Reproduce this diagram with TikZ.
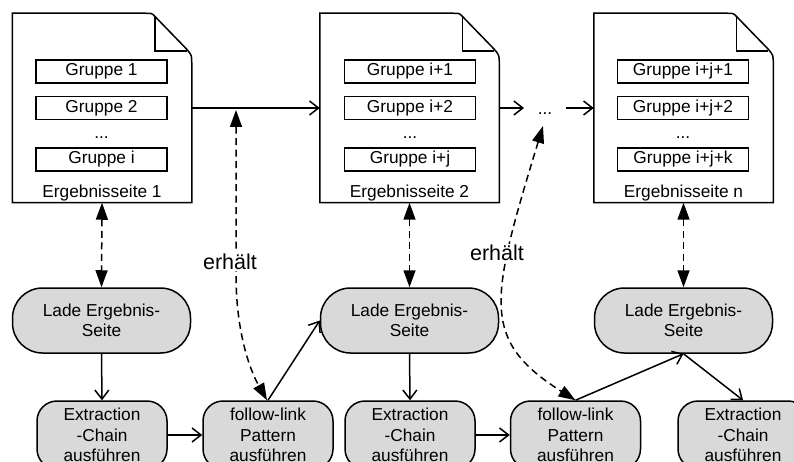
\documentclass[tikz,border=0pt]{standalone}
\usepackage{fontspec}
\setmainfont{Liberation Sans}
\usetikzlibrary{arrows.meta,calc}
\definecolor{stepgray}{HTML}{D9D9D9}

% outline of a result page with a folded top-right corner
\newcommand\pagefold[1]{%
  \draw[fill=white]
    (#1.north west) -- ([xshift=-46pt]#1.north east)
    .. controls ([xshift=-40pt]#1.north east) .. ([xshift=-37pt,yshift=-3pt]#1.north east)
    -- ([xshift=-5pt,yshift=-36pt]#1.north east)
    .. controls ([yshift=-42pt]#1.north east) .. ([yshift=-50pt]#1.north east)
    -- (#1.south east) -- (#1.south west) -- cycle;
  \draw ([xshift=-37pt,yshift=-3pt]#1.north east) -- ([xshift=-37pt,yshift=-38pt]#1.north east)
    -- ([xshift=-5pt,yshift=-38pt]#1.north east);
}

\begin{document}
\begin{tikzpicture}[x=1pt,y=-1pt,line width=1.5pt,
  every node/.style={font=\fontsize{17.3}{20.5}\selectfont},
  page/.style={minimum width=178pt,minimum height=188pt,inner sep=0pt},
  group/.style={draw,fill=white,minimum width=131pt,minimum height=23pt,inner sep=0pt,
    text height=12pt,text depth=3.5pt},
  dots/.style={anchor=base,inner sep=0pt},
  caption/.style={anchor=south,inner sep=1pt},
  loadbox/.style={draw,fill=stepgray,rounded corners=30pt,minimum width=178pt,
    minimum height=65pt,align=center,inner sep=0pt},
  taskbox/.style={draw,fill=stepgray,rounded corners=20pt,minimum width=130pt,
    minimum height=68pt,align=center,inner sep=0pt},
  flow/.style={-{Straight Barb[length=9pt,width=14pt,line width=1.5pt]}},
  link/.style={dash pattern=on 7pt off 4.5pt,
    {Triangle[length=17pt,width=12pt]}-{Triangle[length=17pt,width=12pt]}},
  tag/.style={fill=white,inner sep=1pt,font=\fontsize{21.5}{24}\selectfont}
]
\useasboundingbox (0,0) rectangle (794,462);
\clip (0,0) rectangle (794,462);

% result pages
\node[page] (doc1) at (102,108) {};
\node[page] (doc2) at (409.5,108) {};
\node[page] (doc3) at (683.5,108) {};
\pagefold{doc1}
\pagefold{doc2}
\pagefold{doc3}

\node[group] (g11) at (101.5,71.5) {Gruppe 1};
\node[group] (g12) at (101.5,108) {Gruppe 2};
\node[dots] (d1) at (101.5,139) {...};
\node[group] (g13) at (101.5,159.5) {Gruppe i};
\node[caption] (c1) at (doc1.south) {Ergebnisseite 1};

\node[group] (g21) at (410,71.5) {Gruppe i+1};
\node[group] (g22) at (410,108) {Gruppe i+2};
\node[dots] (d2) at (410,139) {...};
\node[group] (g23) at (410,159.5) {Gruppe i+j};
\node[caption] (c2) at (doc2.south) {Ergebnisseite 2};

\node[group] (g31) at (683,71.5) {Gruppe i+j+1};
\node[group] (g32) at (683,108) {Gruppe i+j+2};
\node[dots] (d3) at (683,139) {...};
\node[group] (g33) at (683,159.5) {Gruppe i+j+k};
\node[caption] (c3) at (doc3.south) {Ergebnisseite n};

\node[anchor=base,inner ysep=0pt,inner xsep=13pt] (more) at (545,114.5) {...};
\coordinate (morefoot) at (543,126);
\coordinate (hop) at (236,110);

% processing steps
\node[loadbox] (load1) at (101.5,320.5) {Lade Ergebnis-\\Seite};
\node[loadbox] (load2) at (409.5,320.5) {Lade Ergebnis-\\Seite};
\node[loadbox] (load3) at (683.5,320.5) {Lade Ergebnis-\\Seite};

\node[taskbox] (ex1) at (102,435) {Extraction\\-Chain\\ausführen};
\node[taskbox] (fl1) at (268,435) {follow-link\\Pattern\\ausführen};
\node[taskbox] (ex2) at (410,435) {Extraction\\-Chain\\ausführen};
\node[taskbox] (fl2) at (575.5,435) {follow-link\\Pattern\\ausführen};
\node[taskbox] (ex3) at (743,435) {Extraction\\-Chain\\ausführen};

% page sequence
\draw[flow] (doc1.east) -- (doc2.west);
\draw[flow] (doc2.east) -- (doc2.east -| more.west);
\draw[flow] (doc2.east -| more.east) -- (doc3.west);

% page <-> loader
\draw[link] (doc1.south) -- (load1.north);
\draw[link] (doc2.south) -- (load2.north);
\draw[link] (doc3.south) -- (load3.north);

% control flow
\draw[flow] (load1.south) -- (ex1.north);
\draw[flow] (ex1.east) -- (fl1.west);
\draw[flow] (fl1.north) -- (load2.west);
\draw[flow] (load2.south) -- (ex2.north);
\draw[flow] (ex2.east) -- (fl2.west);
\draw[flow] (fl2.north) -- (load3.south);
\draw[flow] (load3.south) -- (ex3.north);

% links received by the follow-link steps
\draw[link] (hop) -- (236,280) .. controls (237,335) and (250,370) .. ([xshift=-1pt]fl1.north);
\draw[link] (morefoot) .. controls (490,300) and (480,340) .. (fl2.north);
\node[tag] (t1) at (230,262) {erhält};
\node[tag] (t2) at (497,253) {erhält};
\end{tikzpicture}
\end{document}
